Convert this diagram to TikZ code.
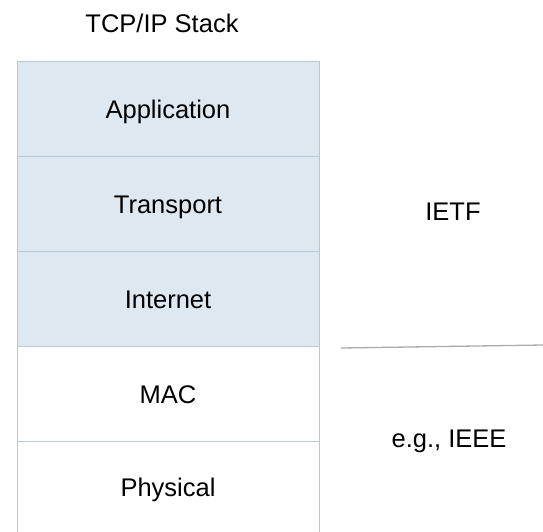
\documentclass[tikz,border=0pt]{standalone}
\usepackage{fontspec}
\setmainfont{Liberation Sans}
\definecolor{layerfill}{HTML}{DEE8F0}
\definecolor{layerline}{HTML}{B6C8DD}
\definecolor{divline}{HTML}{ABABAB}
\begin{document}
\begin{tikzpicture}[x=1pt,y=-1pt,
  layer/.style={draw=layerline,line width=1pt,minimum width=302pt,minimum height=95pt,inner sep=0pt,anchor=north west},
  lbl/.style={font=\fontsize{25.5}{30}\selectfont,inner sep=0pt,anchor=base}]
\useasboundingbox (0,0) rectangle (543,531);
\clip (0,0) rectangle (543,531);
\node[layer,fill=layerfill] (app) at (17,61) {};
\node[layer,fill=layerfill] (trans) at (17,156) {};
\node[layer,fill=layerfill] (inet) at (17,251) {};
\node[layer,fill=white] (mac) at (17,346) {};
\node[layer,fill=white,minimum height=100pt] (phys) at (17,441) {};
\node[lbl] (title) at (162,32) {TCP/IP Stack};
\node[lbl] (appt) at (168,118) {Application};
\node[lbl] (transt) at (168,213) {Transport};
\node[lbl] (inett) at (168,308) {Internet};
\node[lbl] (mact) at (168,403) {MAC};
\node[lbl] (physt) at (168,496) {Physical};
\node[lbl] (ietf) at (453,220) {IETF};
\node[lbl] (ieee) at (449,447) {e.g., IEEE};
\coordinate (d1) at (341,348);
\coordinate (d2) at (543,345);
\draw[divline,line width=1.3pt] (d1) -- (d2);
\end{tikzpicture}
\end{document}
